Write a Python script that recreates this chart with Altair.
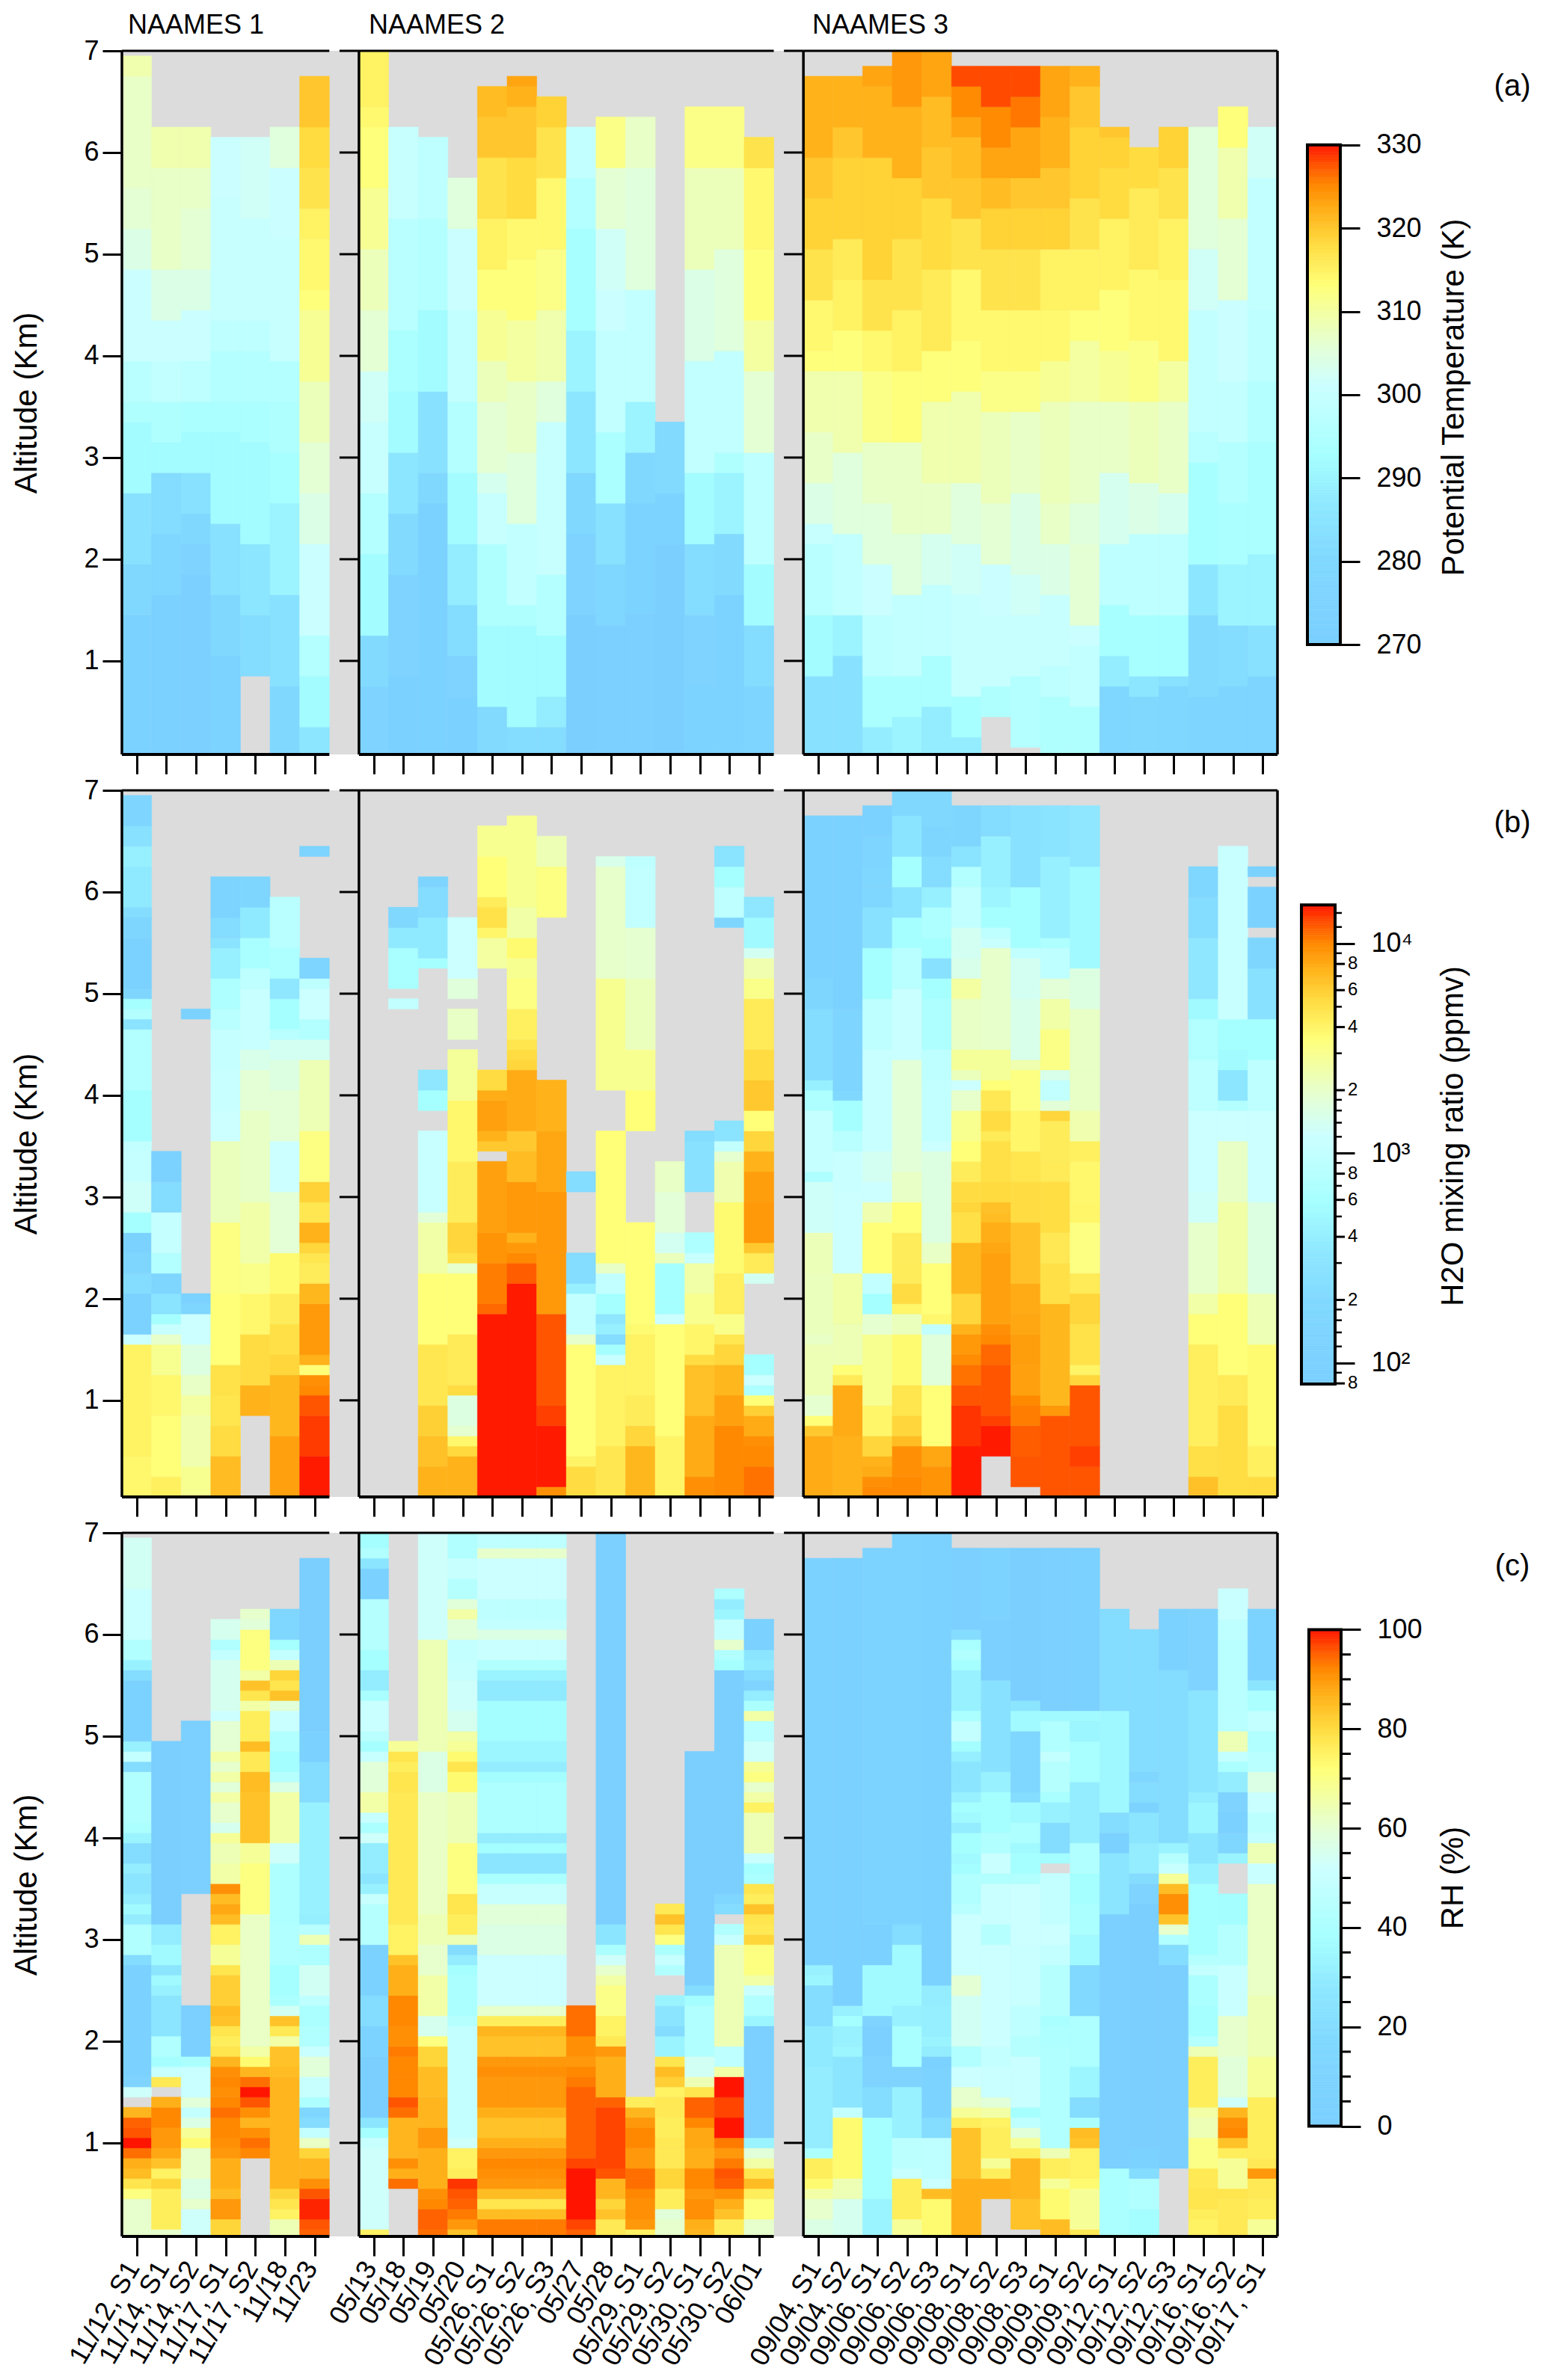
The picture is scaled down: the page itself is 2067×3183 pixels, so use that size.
import altair as alt
import numpy as np
N = None

SLOTS = [0, 8, 23]
LABELS_N1 = ["11/12, S1","11/14, S1","11/14, S2","11/17, S1","11/17, S2","11/18","11/23"]
LABELS_N2 = ["05/13","05/18","05/19","05/20","05/26, S1","05/26, S2","05/26, S3","05/27","05/28","05/29, S1","05/29, S2","05/30, S1","05/30, S2","06/01"]
LABELS_N3 = ["09/04, S1","09/04, S2","09/06, S1","09/06, S2","09/06, S3","09/08, S1","09/08, S2","09/08, S3","09/09, S1","09/09, S2","09/12, S1","09/12, S2","09/12, S3","09/16, S1","09/16, S2","09/17, S1"]

# each column: top altitude of a layer (km), value of that layer, from the ground up
THETA_N1 = [
 [1.4,273,1.9,280,2.6,284,3.3,292,3.5,295,3.9,297,4.8,301,5.2,304,5.6,306,6.7,307,6.9,309],
 [1.6,272,2.2,278,2.8,282,3.1,292,3.5,295,3.9,299,4.3,301,4.8,304,5.8,307,6.2,309],
 [1.8,271,2.1,276,2.4,280,2.8,284,3.2,292,3.5,294,3.9,298,4.4,301,4.8,304,5.4,306,5.8,307,6.2,309],
 [1.0,274,1.6,280,2.3,284,3.2,292,3.5,294,4.0,296,4.3,298,5.5,300,6.1,301],
 [.8,N,1.4,282,2.1,286,3.1,292,3.5,294,4.0,296,4.3,298,5.3,300,6.1,302],
 [.7,280,1.6,284,2.5,290,3.0,293,3.5,295,3.9,296,5.1,300,5.8,301,6.2,305],
 [.3,286,.8,292,1.2,296,2.1,301,2.6,304,3.1,306,3.7,308,4.4,311,4.6,313,5.1,314,5.4,315,5.8,317,6.2,318,6.7,320],
]
THETA_N2 = [
 [.7,276,1.2,281,2.0,292,2.6,296,3.3,300,3.8,302,4.4,306,5.0,308,5.6,311,6.2,313,6.4,314,7.0,315],
 [.8,272,1.8,276,2.4,281,3.0,286,3.6,292,4.2,294,5.3,297,6.2,300],
 [2.5,273,2.8,280,3.6,284,4.4,292,5.3,296,6.1,298],
 [.6,272,1.0,276,1.5,282,2.1,288,2.8,292,3.5,296,4.4,299,5.2,301,5.7,305],
 [.5,281,1.3,292,2.1,295,2.6,300,2.8,303,3.5,306,3.9,308,4.4,311,4.8,313,5.3,315,5.9,317,6.3,320,6.6,321],
 [.3,282,1.3,292,1.5,295,2.3,299,3.0,305,3.7,307,4.3,310,4.9,313,5.3,314,5.9,318,6.4,320,6.6,322,6.7,323],
 [.3,282,.6,288,1.2,292,1.8,296,3.3,300,3.7,305,4.4,309,5.0,312,5.7,314,6.2,317,6.5,319],
 [1.4,270,2.2,276,2.8,280,3.6,286,4.2,290,5.2,293,5.7,296,6.2,299],
 [1.3,271,1.9,278,2.5,284,3.2,294,4.2,299,4.6,301,5.2,302,5.8,306,6.3,312],
 [1.4,271,2.5,274,3.0,280,3.5,290,4.6,299,5.8,305,6.3,307],
 [2.1,270,2.6,274,3.3,281],
 [.7,274,1.4,276,2.1,282,2.8,292,3.9,299,4.8,304,5.8,308,6.4,312],
 [1.6,274,2.2,281,2.8,290,3.0,295,4.0,299,5.0,305,5.8,308,6.4,312],
 [.7,277,1.3,282,1.9,292,3.0,298,3.8,306,4.3,310,5.0,313,5.8,314,6.1,317],
]
THETA_N3 = [
 [.8,284,1.4,292,2.1,297,2.3,300,2.7,304,3.2,307,3.8,309,4.0,313,4.5,314,5.0,317,5.5,319,5.9,320,6.7,322],
 [1.0,284,1.4,290,2.2,299,3.0,305,3.8,309,4.2,313,4.7,315,5.1,316,5.9,319,6.2,320,6.7,322],
 [.3,288,.8,294,1.4,298,1.9,301,2.5,305,3.1,307,3.8,312,4.2,314,4.7,317,5.9,319,6.6,322,6.8,323],
 [.4,290,.8,294,1.6,299,2.2,305,3.1,307,3.8,313,4.4,315,5.1,317,5.7,319,6.4,322,7.0,324],
 [.5,288,1.0,294,1.7,299,2.2,303,2.7,307,3.5,309,4.0,313,4.8,316,5.5,318,6.0,320,6.5,321,7.0,323],
 [.2,288,.6,293,1.6,300,2.1,302,2.7,305,3.6,309,4.1,313,4.8,314,5.3,317,5.7,320,6.1,321,6.3,323,6.6,325,6.8,328],
 [.4,N,.7,295,1.4,300,1.9,301,2.5,306,3.4,308,3.8,312,4.4,314,5.0,317,5.4,319,5.7,321,6.0,323,6.4,325,6.8,328],
 [.1,N,.8,296,1.4,300,1.8,302,2.6,304,3.4,307,3.8,312,4.4,314,5.0,317,5.4,319,5.7,320,6.2,323,6.5,326,6.8,328],
 [.6,295,.9,298,1.6,300,2.1,304,2.5,307,3.5,308,3.9,311,4.4,314,5.0,315,5.4,319,5.8,320,6.3,322,6.8,323],
 [.5,295,1.1,299,1.3,301,2.1,306,2.5,305,3.5,307,4.1,310,4.4,313,5.0,315,5.5,317,6.2,319,6.6,320,6.8,322],
 [.7,278,1.0,288,1.5,293,2.1,298,2.8,303,3.5,307,4.0,311,4.6,313,5.3,315,5.8,318,6.1,319,6.2,320],
 [.6,280,.8,286,1.4,293,2.2,298,2.7,304,3.5,308,4.1,312,4.8,314,5.6,316,6.0,318],
 [.7,278,.8,284,1.4,293,2.2,298,2.6,303,3.5,307,3.9,310,4.7,314,5.3,315,5.8,317,6.2,319],
 [.6,277,1.4,281,1.9,286,2.9,293,3.2,297,4.4,299,5.0,302,6.2,305],
 [.7,277,1.3,282,1.9,290,2.5,294,3.1,296,3.7,299,4.5,301,5.3,306,6.0,309,6.4,313],
 [.8,277,1.3,284,2.0,290,3.1,294,3.7,296,4.4,298,5.7,299,6.2,302],
]

H2O_N1 = [
 [.4,3800,1.5,4100,1.6,1225,2.0,105,2.2,228,2.4,155,2.6,105,2.8,590,3.1,1300,3.4,1080,3.5,1000,4.0,590,4.6,760,4.7,290,4.8,760,4.9,590,5.0,155,5.5,105,5.7,155,5.8,228,6.2,360,6.4,420,6.6,270,6.9,140],
 [.2,4200,.8,3500,1.2,3800,1.5,2950,1.6,2000,1.7,1130,1.8,590,2.0,290,2.2,155,2.4,760,2.8,1080,3.1,228,3.2,105,3.4,105],
 [.3,2950,.8,2400,1.0,2650,1.2,2070,1.5,1650,1.8,1225,1.9,155,2.0,105,4.7,N,4.8,105],
 [.4,7000,.7,5280,1.0,4800,1.3,5000,2.0,3500,2.7,3300,3.5,2200,3.8,1225,4.2,1130,4.6,1080,4.8,850,5.1,680,5.4,420,5.5,290,5.7,228,6.1,125],
 [.8,N,1.1,7600,1.6,5280,2.0,3800,2.3,3100,2.9,2500,3.8,2070,4.2,1850,4.4,1500,5.0,1130,5.2,930,5.5,620,5.8,360,6.1,155],
 [.6,8500,1.2,7300,1.4,5600,1.7,5050,2.0,4400,2.4,3700,3.0,1850,3.5,1225,4.0,1850,4.3,1650,4.5,1380,4.6,850,4.9,590,5.1,340,5.4,680,5.9,850],
 [.4,15000,.8,13500,1.0,12400,1.1,10000,1.2,9500,1.3,3500,1.4,7600,1.9,8900,2.1,7300,2.3,4400,2.4,4700,2.5,5600,2.7,7600,2.9,4700,3.1,5800,3.6,3300,4.3,2300,4.5,1380,4.7,760,5.0,1225,5.1,930,5.3,140,6.3,N,6.4,125],
]
H2O_N2 = [
 [],
 [4.8,N,4.9,1000,5.0,N,5.4,620,5.6,360,5.8,185],
 [.3,7600,.6,6700,.9,5900,1.5,4700,2.2,3500,2.7,2550,2.8,1800,3.6,1130,3.8,N,4.0,590,4.2,340,5.2,N,5.3,590,5.7,360,6.0,228,6.1,125],
 [.4,7600,.5,5500,.6,3800,.7,1900,1.0,1650,1.1,5280,1.6,4500,2.2,3500,2.3,2000,2.4,5000,2.7,5600,3.3,4400,3.9,3800,4.4,2800,4.5,N,4.8,2070,4.9,N,5.1,1750,5.7,1225],
 [1.8,15000,1.9,11500,2.3,10500,2.6,9300,3.3,8500,3.4,N,3.5,6300,3.6,7600,3.9,8500,4.0,7800,4.2,5280,5.2,N,5.5,2650,5.6,3900,5.8,5000,5.9,4400,6.3,3500,6.6,2950],
 [2.1,15000,2.3,12000,2.4,10000,2.5,9000,2.6,7600,3.1,9000,3.4,7000,3.6,6300,4.2,8000,4.3,5600,4.4,5280,4.5,4800,4.8,4200,5.1,3300,5.3,2950,5.5,3700,5.8,2550,6.7,2950],
 [.1,9500,.7,15000,.9,13300,1.8,12400,2.4,9000,3.0,9000,3.6,8200,4.1,7600,5.7,N,6.2,3300,6.5,2300],
 [.3,5280,.4,4000,1.5,3500,1.6,2000,2.0,1000,2.1,420,2.4,228,3.0,N,3.2,228],
 [.5,4700,1.3,4100,1.4,1130,1.5,590,1.6,228,1.7,420,1.8,340,2.0,590,2.2,1000,2.3,2070,3.6,3500,4.0,N,5.1,2950,6.2,2000,6.3,1500],
 [.5,7300,.7,5600,1.0,4400,1.6,4100,1.7,3700,2.7,3500,3.6,N,4.0,3500,4.4,2950,5.1,2200,5.6,1900,6.2,1000,6.3,930],
 [.6,4000,1.7,3500,1.8,1225,1.9,590,2.3,590,2.4,2200,2.6,1380,3.0,1800,3.3,2070],
 [.2,9500,.8,8000,1.3,6700,1.4,5280,1.7,3900,2.0,3000,2.3,2550,2.4,1130,2.6,680,3.0,N,3.5,270,3.6,228],
 [.7,10000,1.0,8500,1.3,7300,1.5,5600,1.6,4700,1.8,3100,2.2,4300,2.9,3700,3.3,2400,3.4,1900,3.5,1000,3.7,290,5.6,N,5.7,155,6.0,930,6.2,590,6.4,290],
 [.3,11000,.5,10000,.6,9500,.8,8000,.9,5900,1.0,3500,1.1,680,1.2,1225,1.4,590,2.1,N,2.2,1380,2.4,4500,2.5,6300,2.9,9000,3.2,8700,3.4,7600,3.6,5600,3.8,3500,4.1,6300,4.4,5280,4.9,4500,5.1,3100,5.3,2400,5.4,1380,5.7,520,5.9,340],
]
H2O_N3 = [
 [.6,8000,.7,6300,.8,3500,1.0,1900,1.5,2300,1.6,2070,2.2,2200,2.6,2250,3.1,1300,3.2,680,3.8,1080,4.0,680,4.1,420,4.8,228,5.1,155,6.7,105],
 [.6,7600,1.1,8000,1.2,4500,1.3,3500,1.7,2300,2.2,2550,2.3,1225,3.0,1225,3.4,1180,3.6,850,3.9,590,4.0,185,4.8,140,6.7,105],
 [.1,10000,.2,9500,.3,8000,.4,7600,.6,5600,.9,3900,1.6,2950,1.8,1900,2.0,590,2.2,1000,2.7,3500,2.9,2400,3.1,1225,3.4,1380,4.4,1130,4.9,930,5.4,590,5.8,270,6.0,170,6.2,170,6.5,140,6.8,105],
 [.2,10000,.5,9500,.6,7000,.8,5600,1.1,4800,1.6,3700,1.8,2200,1.9,3900,2.1,5280,2.3,4400,2.6,4400,2.9,3500,3.2,2070,4.3,1800,5.0,1180,5.4,850,5.7,590,6.0,290,6.3,590,6.7,300,7.0,185],
 [.3,9300,.5,8200,1.1,3500,1.6,1750,1.7,1000,1.8,3800,2.3,3500,2.5,2070,3.4,1650,3.5,1225,4.1,1000,4.4,930,4.9,680,5.1,590,5.3,270,5.5,590,5.8,680,6.0,420,6.3,228,6.6,155,7.0,185],
 [.5,15000,.9,13800,1.1,12400,1.3,11000,1.4,9800,1.6,9000,1.7,7600,2.0,5600,2.5,7300,2.8,5100,2.9,5600,3.1,5280,3.3,4400,3.5,3500,3.8,3000,4.0,2000,4.1,1225,4.2,2200,4.4,2800,4.9,2070,5.1,2650,5.3,1500,5.6,1380,6.0,1000,6.2,760,6.4,290,6.8,155],
 [.4,N,.7,15000,.8,13300,1.3,12400,1.5,11500,1.6,10000,1.7,9500,2.4,8500,2.5,8200,2.7,7800,2.8,7000,2.9,6700,3.1,5400,3.5,5100,3.6,4500,3.8,5280,4.0,4600,4.1,3500,4.4,2800,5.4,2000,5.5,1130,5.6,930,5.8,590,6.0,480,6.5,420,6.8,228],
 [.1,N,.4,12400,.7,12000,.9,10500,1.0,10000,1.3,8500,1.6,8700,1.8,8200,2.1,8000,2.7,6700,3.1,5280,3.4,4800,3.8,3900,4.2,3300,4.3,2400,4.9,1500,5.3,1380,5.4,1000,6.0,590,6.8,270],
 [.8,12400,.9,9000,1.9,7300,2.3,5100,2.6,4600,3.1,5200,3.3,4500,3.7,4400,3.8,5600,3.9,1800,4.1,1000,4.2,1500,4.6,3200,4.9,2550,5.1,1800,5.4,930,5.5,680,6.3,420,6.8,290],
 [.3,12400,.5,13300,1.1,12400,1.2,5600,1.3,4000,1.7,5000,2.0,5600,2.2,4500,2.7,3300,2.9,3900,3.3,3800,3.5,4200,3.8,2400,4.2,2070,4.8,2070,5.2,1650,6.2,520,6.8,340],
 [], [], [],
 [.2,6700,.5,5100,1.5,4300,1.8,3500,2.0,2550,2.7,2000,3.0,1300,3.8,1225,4.3,930,4.7,760,4.9,520,5.5,340,5.9,228,6.2,170],
 [.9,5200,1.2,4500,2.0,3500,2.9,2550,3.5,2070,3.8,1225,3.9,760,4.2,320,4.4,540,4.7,590,6.4,1130],
 [.2,5280,.5,4200,1.5,3700,2.0,2300,2.9,1650,3.8,1225,4.3,930,4.7,590,5.2,270,5.5,155,5.6,N,6.0,105,6.1,N,6.2,105],
]

RH_N1 = [
 [.4,61,.5,71,.6,78,.7,85,.8,87,.9,94,1.0,100,1.1,96,1.2,95,1.3,86,1.4,N,1.5,53,1.6,10,2.7,4,2.8,20,3.1,42,3.2,30,3.3,36,3.4,30,3.6,26,3.7,30,3.9,20,4.0,33,4.1,40,4.6,42,4.7,20,4.8,49,4.9,32,5.5,6,5.6,20,5.7,32,5.9,42,6.4,51,6.9,54],
 [.1,61,.5,76,.6,81,.7,75,.8,84,.9,88,1.1,90,1.3,92,1.4,87,1.5,N,1.6,77,1.7,50,1.8,38,2.0,42,2.4,26,2.5,32,2.6,36,2.7,26,2.9,36,3.1,30,4.9,0],
 [.3,53,.4,61,.6,57,.9,61,1.0,73,1.1,68,1.2,57,1.3,49,1.4,59,1.7,51,1.8,40,2.3,2,3.4,N,5.1,2],
 [.2,81,.4,90,.5,85,.8,87,.9,90,1.0,91,1.2,92,1.3,94,1.4,92,1.5,91,1.6,92,1.7,91,1.8,86,1.9,78,2.0,76,2.1,78,2.2,84,2.3,85,2.6,82,2.7,78,2.9,68,3.1,75,3.2,85,3.3,88,3.4,85,3.5,91,3.7,66,3.9,64,4.0,68,4.1,55,4.3,61,4.4,66,4.5,59,4.6,66,4.7,61,4.8,66,5.1,60,5.2,52,5.7,55,5.8,49,5.9,42,6.1,55],
 [.8,N,.9,92,1.0,94,1.1,91,1.2,86,1.3,91,1.4,96,1.5,100,1.6,94,1.7,86,1.8,73,1.9,66,3.2,62,3.7,71,3.9,68,4.4,84,4.6,85,4.8,77,4.9,85,5.0,76,5.2,76,5.3,66,5.4,78,5.5,84,5.6,66,6.0,71,6.1,59,6.2,61],
 [.2,64,.3,75,.4,78,.5,81,.7,86,1.6,86,1.7,85,1.9,84,2.0,66,2.1,77,2.2,84,2.3,54,2.4,40,2.7,38,3.1,42,3.7,41,3.9,53,4.4,66,4.5,57,4.6,44,4.8,37,5.0,42,5.2,51,5.3,59,5.4,84,5.5,78,5.6,81,5.7,64,5.8,49,5.9,38,6.2,13],
 [.1,95,.2,96,.4,99,.5,96,.6,91,.8,86,.9,81,1.0,62,1.1,49,1.2,20,1.3,13,1.4,41,1.6,50,1.8,59,1.9,51,2.1,42,2.3,40,2.4,47,2.7,54,2.9,41,3.0,64,3.1,45,3.2,31,4.3,32,4.7,20,5.0,4,6.7,0],
]
RH_0526 = [.2,93,.3,85,.4,78,.5,85,.6,90,.7,91,.8,92,.9,90,1.0,87,1.2,84,1.3,87,1.6,90,1.7,91,1.8,90,1.9,84,2.0,84,2.1,86,2.2,76,2.3,61,2.8,52,3.1,57,3.3,59,3.5,50,3.6,40,3.8,26,3.9,37,4.0,30,4.5,41,4.6,37,4.7,30,4.9,34,5.3,37,5.5,29,5.6,33,5.7,42,5.9,51,6.0,57,6.1,49,6.3,47,6.7,52,6.8,61,7.0,47]
RH_N2 = [
 [.1,75,.9,53,1.0,50,1.1,38,1.2,26,1.8,0,2.1,8,2.4,20,2.9,6,3.3,44,3.4,50,3.5,32,3.6,26,3.9,30,4.0,53,4.1,40,4.2,50,4.4,66,4.7,59,4.8,50,4.9,38,5.0,45,5.3,51,5.4,39,5.6,30,5.8,38,6.3,44,6.6,4,6.7,26,6.8,42,7.0,37],
 [.5,N,.6,94,.7,87,.8,91,1.2,86,1.3,94,1.4,96,1.6,92,1.8,92,1.9,93,2.1,91,2.4,92,2.7,87,2.8,84,3.1,75,4.4,77,4.6,78,4.7,76,4.8,78,4.9,68],
 [.1,94,.3,95,.4,92,.5,91,.7,87,.9,87,1.1,90,1.2,86,1.4,86,1.7,85,1.9,81,2.0,71,2.2,55,2.6,66,2.9,61,3.2,64,4.4,62,4.8,57,5.9,64,7.0,53],
 [.1,84,.2,90,.3,93,.4,95,.5,96,.6,98,.7,76,.9,75,1.0,53,2.1,49,2.2,44,2.6,40,2.7,38,2.8,30,2.9,20,3.0,64,3.2,76,3.4,78,3.9,71,4.2,64,4.4,64,4.6,73,4.7,78,4.8,73,4.9,68,5.0,66,5.2,55,5.5,53,5.7,50,5.9,49,6.1,59,6.2,66,6.3,59,6.5,44,6.7,50,7.0,42],
 RH_0526, RH_0526, RH_0526,
 [.1,95,.2,97,.7,100,.8,97,1.5,95,1.6,93,1.7,92,1.8,90,2.0,91,2.3,94],
 [.2,77,.3,84,.4,81,.6,86,.7,96,1.3,97,1.4,95,1.8,87,1.9,90,2.0,77,2.2,75,2.5,70,2.6,66,2.7,61,2.8,53,2.9,40,3.1,26,7.0,2],
 [.1,75,.2,90,.4,91,.5,92,.6,94,.7,94,.9,90,1.1,92,1.2,90,1.3,86,1.4,76],
 [.2,61,.3,59,.5,76,.7,81,.9,77,1.0,77,1.2,76,1.4,77,1.5,75,1.6,82,1.7,85,1.8,78,2.0,33,2.1,20,2.3,26,2.4,33,2.6,N,2.7,42,2.8,50,2.9,40,3.0,71,3.1,78,3.2,84,3.3,77],
 [.1,86,.2,87,.4,91,.5,90,.7,92,.9,87,1.1,88,1.2,92,1.4,95,1.5,78,1.6,64,1.8,54,2.3,42,2.4,37,2.5,20,4.8,0],
 [.2,76,.3,84,.4,87,.5,91,.6,95,.7,96,.8,93,.9,90,1.0,93,1.2,100,1.4,97,1.6,100,1.7,66,1.9,47,2.9,64,3.0,50,3.1,42,3.2,N,3.3,20,3.4,13,5.6,0,5.7,38,5.8,42,5.9,61,6.1,49,6.2,34,6.3,30,6.4,41],
 [.2,61,.4,71,.5,76,.6,85,.7,78,.8,66,.9,59,1.0,33,2.1,2,2.2,34,2.3,42,2.4,42,2.5,51,2.6,66,2.9,71,3.0,81,3.1,77,3.2,78,3.3,84,3.4,76,3.5,78,3.6,40,3.7,38,3.8,51,4.2,64,4.3,75,4.4,66,4.5,61,4.6,71,4.7,68,4.9,53,5.1,45,5.2,66,5.3,40,5.4,30,5.5,10,5.6,20,5.7,29,5.8,26,6.1,4],
]
RH_N3 = [
 [.2,57,.4,61,.5,66,.6,73,.8,76,.9,40,1.7,30,2.1,29,2.5,20,2.6,34,2.7,32,6.7,6],
 [.4,55,.6,64,1.2,73,1.3,49,1.8,26,1.9,34,2.1,32,2.2,38,2.3,32,6.7,4],
 [.4,33,1.2,38,1.5,20,1.8,10,2.1,2,2.2,10,2.7,36,3.1,4,6.8,8],
 [.2,68,.5,76,.6,76,.7,50,1.0,46,1.5,32,1.7,10,2.1,39,2.3,32,2.9,36,3.1,20,7.0,8],
 [.4,73,.5,85,.6,51,1.0,47,1.2,20,1.7,8,1.8,4,1.9,30,2.0,33,2.3,31,2.5,30,7.0,6],
 [.6,87,1.1,84,1.2,76,1.3,68,1.5,61,1.7,52,1.9,42,2.4,54,2.6,60,3.2,52,3.3,45,3.6,42,3.7,37,3.8,36,4.0,38,4.1,30,4.2,36,4.3,38,4.4,32,4.7,26,4.8,31,4.9,37,5.1,49,5.2,40,5.6,32,5.7,38,5.8,42,5.9,39,6.0,20,6.8,2],
 [.4,N,.6,87,.7,76,.8,68,1.1,76,1.2,75,1.3,66,1.4,59,1.7,51,1.9,49,2.9,52,3.1,44,3.5,51,3.6,42,3.8,51,4.0,42,4.4,38,4.6,32,5.5,23,6.1,2,6.8,8],
 [.1,N,.4,84,.8,86,.9,76,1.0,68,1.1,59,1.2,47,1.3,38,1.8,51,2.0,44,2.3,47,2.9,51,3.5,52,3.6,42,3.8,38,3.9,36,4.1,41,4.3,36,4.4,20,5.0,13,5.2,36,5.3,26,6.8,0],
 [.2,85,.5,73,.6,68,.8,76,.9,64,1.9,42,2.1,41,2.2,39,2.7,44,2.9,49,3.1,52,3.6,49,3.7,N,3.8,37,4.1,20,4.3,32,4.4,39,4.7,44,4.8,49,5.1,42,5.2,36,6.8,2],
 [.1,77,.5,68,.6,73,.9,75,1.0,84,1.1,85,1.2,40,1.4,20,1.7,34,2.2,41,2.7,18,3.0,36,3.3,40,3.6,38,3.9,42,4.5,30,4.9,39,5.1,34,5.2,36,6.8,4],
 [.7,40,3.2,2,3.8,26,4.0,4,4.2,20,5.2,35,6.2,20],
 [.3,37,.6,42,.7,20,.9,6,3.3,0,3.5,10,3.6,20,3.9,30,4.2,26,4.3,8,4.5,20,4.6,13,6.0,20],
 [.7,N,2.7,0,2.9,20,3.0,42,3.1,61,3.2,84,3.4,91,3.5,85,3.6,68,3.7,50,3.8,44,3.9,33,5.6,20,6.2,6],
 [.2,75,.3,76,.5,78,.7,77,1.0,70,1.2,64,1.3,66,1.8,76,1.9,64,2.0,44,2.3,38,2.6,40,2.7,49,2.8,44,3.3,38,3.5,38,3.7,32,4.0,26,4.3,34,4.4,30,5.4,26,6.2,10],
 [.4,77,.5,78,.8,68,.9,76,1.0,84,1.1,92,1.2,91,1.3,86,1.4,53,1.8,59,2.2,61,2.7,51,3.1,44,3.4,37,3.7,N,3.8,33,4.0,13,4.2,4,4.4,10,4.6,30,4.7,40,4.8,49,5.0,64,5.2,45,5.9,45,6.1,47,6.4,51],
 [.2,68,.4,76,.6,77,.7,90,.8,77,1.4,76,1.8,68,2.4,64,3.5,62,3.7,51,3.9,64,4.0,49,4.2,46,4.4,51,4.6,57,4.8,45,5.0,42,5.2,49,5.4,40,5.5,26,6.2,8],
]

GRAY = "#DCDCDC"
FONT = "Liberation Sans"
STOPS = [0, .17, .28, .38, .52, .6, .72, .8, .87, .92, .96, 1]
COLORS = ["#7ACFFF","#80D8FF","#8EE8FF","#A6FFFF","#CCFFFF","#E4FFD4","#FFFF78","#FFDC40","#FFB018","#FF8800","#FF5500","#FF1400"]
XDOM = [0, 39]
TICKS = [s + i + .5 for s, n in zip(SLOTS, (7, 14, 16)) for i in range(n)]
ALL_LABELS = LABELS_N1 + LABELS_N2 + LABELS_N3
LABEL_EXPR = "{" + ",".join(f'"{t}":"{l}"' for t, l in zip(TICKS, ALL_LABELS)) + "}[datum.value]"


def cells(groups):
    out = []
    for start, cols in zip(SLOTS, groups):
        for i, col in enumerate(cols):
            lo = 0.0
            for top, v in zip(col[0::2], col[1::2]):
                hi = top + .05
                if v is not None:
                    out.append(dict(x0=start + i, x1=start + i + 1, lo=round(lo, 2), hi=round(hi, 2), v=v))
                lo = hi
    return out


def panel(groups, ymin, height, cscale, labels=False, names=False):
    w = 1545
    yscale = alt.Scale(domain=[ymin, 7], nice=False, zero=False)
    xscale = alt.Scale(domain=XDOM, nice=False, zero=False)
    xaxis = alt.Axis(values=TICKS, tickSize=26, tickWidth=3, tickColor="black", domain=False, grid=False,
                     title=None, labels=labels, labelFontSize=36, labelAngle=300, labelAlign="right",
                     labelBaseline="middle", labelPadding=10, labelOffset=-5, labelExpr=LABEL_EXPR, labelFont=FONT,
                     labelColor="black", labelOverlap=False, labelBound=False, labelFlush=False)
    yaxis = alt.Axis(values=[1, 2, 3, 4, 5, 6, 7], tickSize=26, tickWidth=3, tickColor="black", domain=False,
                     grid=False, title="Altitude (Km)", titleFontSize=42, titleFontWeight="normal", titleFont=FONT,
                     titleColor="black", labelFontSize=36, labelFont=FONT, labelColor="black", labelPadding=5,
                     titlePadding=54, format="d", labelFlush=False)
    X = lambda f: alt.X(f, scale=xscale, axis=xaxis)
    Y = lambda f: alt.Y(f, scale=yscale, axis=yaxis)
    rect = alt.Chart(alt.Data(values=cells(groups))).mark_rect(clip=True, strokeWidth=.6).encode(
        x=X("x0:Q"), x2="x1:Q", y=Y("lo:Q"), y2="hi:Q",
        color=alt.Color("v:Q", scale=cscale, legend=None),
        stroke=alt.Stroke("v:Q", scale=cscale, legend=None))
    ticks = alt.Chart(alt.Data(values=[dict(a=s - 26 / 39.6, b=s, k=k) for s in SLOTS[1:] for k in range(1, 8)])).mark_rule(
        color="black", strokeWidth=3).encode(x=X("a:Q"), x2="b:Q", y=Y("k:Q"))
    spans = alt.Data(values=[dict(a=0, b=7), dict(a=8, b=22), dict(a=23, b=39)])
    top = alt.Chart(spans).mark_rule(color="black", strokeWidth=3).encode(x=X("a:Q"), x2="b:Q", y=alt.value(0))
    bot = alt.Chart(spans).mark_rule(color="black", strokeWidth=4).encode(x=X("a:Q"), x2="b:Q", y=alt.value(height))
    left = alt.Chart(alt.Data(values=[dict(a=s) for s in SLOTS + [39]])).mark_rule(color="black", strokeWidth=3.5).encode(
        x=X("a:Q"), y=alt.value(0), y2=alt.value(height))
    layers = [rect, ticks, top, bot, left]
    if names:
        layers.append(alt.Chart(alt.Data(values=[dict(a=.2, t="NAAMES 1"), dict(a=8.33, t="NAAMES 2"), dict(a=23.3, t="NAAMES 3")])).mark_text(
            align="left", baseline="middle", fontSize=36, font=FONT, color="black").encode(
            x=X("a:Q"), y=alt.value(-34), text="t:N"))
    return alt.layer(*layers).properties(width=w, height=height, view=alt.ViewConfig(fill=GRAY, stroke=None))


def colorbar(lo, hi, dom, ty, height, cscale, major, major_labels, minor_long, minor_short, small, title, tx, ty_title, letter, lx, ly, w=44):
    if ty == "log":
        edges = np.geomspace(lo, hi, 201)
        yscale = alt.Scale(type="log", domain=dom, nice=False)
    else:
        edges = np.linspace(lo, hi, 201)
        yscale = alt.Scale(domain=dom, nice=False, zero=False)
    grad = [dict(a=float(a), b=float(b), v=float((a * b) ** .5 if ty == "log" else (a + b) / 2)) for a, b in zip(edges[:-1], edges[1:])]
    expr = "{" + ",".join(f'"{m}":"{l}"' for m, l in zip(major, major_labels)) + "}[datum.value]"
    yaxis = alt.Axis(orient="right", values=major, tickSize=26, tickWidth=3, tickColor="black", domain=False, grid=False,
                     labelFontSize=36, labelFont=FONT, labelColor="black", labelPadding=22, labelExpr=expr, labelOverlap=False,
                     labelFlush=False, labelBound=False,
                     title=title, titleFontSize=42, titleFontWeight="normal", titleFont=FONT, titleColor="black",
                     titleAngle=270, titleX=tx, titleY=ty_title, titleAlign="center", titleBaseline="middle")
    Y = lambda f: alt.Y(f, scale=yscale, axis=yaxis)
    bar = alt.Chart(alt.Data(values=grad)).mark_rect(strokeWidth=.6).encode(
        x=alt.value(0), x2=alt.value(w), y=Y("a:Q"), y2="b:Q",
        color=alt.Color("v:Q", scale=cscale, legend=None), stroke=alt.Stroke("v:Q", scale=cscale, legend=None))
    frame = alt.Chart(alt.Data(values=[dict(a=lo, b=hi)])).mark_rect(filled=False, stroke="black", strokeWidth=4).encode(
        x=alt.value(0), x2=alt.value(w), y=Y("a:Q"), y2="b:Q")
    layers = [bar, frame]
    if minor_long:
        layers.append(alt.Chart(alt.Data(values=[dict(k=k) for k in minor_long])).mark_rule(color="black", strokeWidth=3).encode(
            x=alt.value(w), x2=alt.value(w + 13), y=Y("k:Q")))
    if minor_short:
        layers.append(alt.Chart(alt.Data(values=[dict(k=k) for k in minor_short])).mark_rule(color="black", strokeWidth=2.5).encode(
            x=alt.value(w), x2=alt.value(w + 9), y=Y("k:Q")))
    if small:
        layers.append(alt.Chart(alt.Data(values=[dict(k=k, t=t) for k, t in small])).mark_text(
            align="left", baseline="middle", fontSize=24, font=FONT, color="black").encode(
            x=alt.value(w + 17), y=Y("k:Q"), text="t:N"))
    layers.append(alt.Chart(alt.Data(values=[dict(t=letter)])).mark_text(
        align="center", baseline="middle", fontSize=40, font=FONT, color="black").encode(
        x=alt.value(lx), y=alt.value(ly), text="t:N"))
    return alt.layer(*layers).properties(width=w, height=height, view=alt.ViewConfig(stroke=None))


scale_t = alt.Scale(domain=[270 + 60 * f for f in STOPS], range=COLORS, interpolate="rgb", clamp=True)
scale_r = alt.Scale(domain=[100 * f for f in STOPS], range=COLORS, interpolate="rgb", clamp=True)
scale_w = alt.Scale(type="log", domain=[79.4 * (15300 / 79.4) ** f for f in STOPS], range=COLORS, interpolate="rgb", clamp=True)

row_a = alt.hconcat(
    panel([THETA_N1, THETA_N2, THETA_N3], .08, 941, scale_t, names=True),
    colorbar(270, 330, [256.8, 341.3], "linear", 941, scale_t, [270, 280, 290, 300, 310, 320, 330],
             ["270", "280", "290", "300", "310", "320", "330"], [], [], [],
             "Potential Temperature (K)", 151, 463, "(a)", 274, 48),
    spacing=36).resolve_scale(color="independent", stroke="independent")
row_b = alt.hconcat(
    panel([H2O_N1, H2O_N2, H2O_N3], .05, 945, scale_w),
    colorbar(79.4, 15300, [23, 53800], "log", 945, scale_w, [100, 1000, 10000], ["10²", "10³", "10⁴"],
             [80, 200, 400, 600, 800, 2000, 4000, 6000, 8000],
             [90, 120, 140, 160, 180, 300, 500, 700, 900, 1200, 1400, 1600, 1800, 3000, 5000, 7000, 9000, 12000, 14000],
             [(80, "8"), (200, "2"), (400, "4"), (600, "6"), (800, "8"), (2000, "2"), (4000, "4"), (6000, "6"), (8000, "8")],
             "H2O mixing ratio (ppmv)", 157, 462, "(b)", 282, 44, w=45),
    spacing=28).resolve_scale(color="independent", stroke="independent")
row_c = alt.hconcat(
    panel([RH_N1, RH_N2, RH_N3], .08, 941, scale_r, labels=True),
    colorbar(0, 100, [-22.2, 119.5], "linear", 941, scale_r, [0, 20, 40, 60, 80, 100], ["0", "20", "40", "60", "80", "100"],
             [5, 10, 15, 25, 30, 35, 45, 50, 55, 65, 70, 75, 85, 90, 95], [], [],
             "RH (%)", 149, 461, "(c)", 272, 45, w=43),
    spacing=38).resolve_scale(color="independent", stroke="independent")

chart = alt.vconcat(row_a, row_b, row_c, spacing=2).resolve_scale(color="independent", stroke="independent").properties(
    padding={"left": 6, "top": 8, "right": 0, "bottom": 0}, background="white"
).configure_view(strokeWidth=0)

chart.save("out.html", embed_options={"renderer": "svg", "actions": False})
